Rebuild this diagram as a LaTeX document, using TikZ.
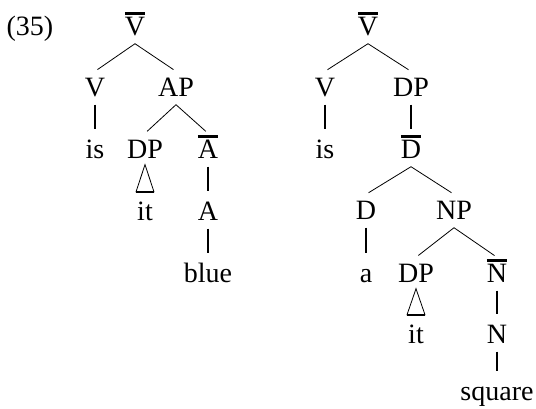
\documentclass[tikz,border=0pt]{standalone}
\usepackage{fontspec}
\setmainfont{Liberation Serif}
\usetikzlibrary{positioning,calc}
\newcommand{\xbar}[1]{\vbox{\hrule height 2.4pt\kern 2.5pt\hbox{#1}}}
\tikzset{
tree_node/.style={inner xsep=2pt, inner ysep=8pt, text height=17pt, text depth=0pt},
branch/.style={line width=0.8pt, shorten >=3pt},
unary/.style={line width=1.8pt, shorten >=4pt},
roof/.style={line width=0.8pt, line join=miter},
roof_base/.style={line width=1.8pt}
}

\begin{document}
\begin{tikzpicture}[x=1pt, y=1pt, on grid, font=\fontsize{28}{33}\selectfont]
    \useasboundingbox (0,0) rectangle (536,-408);
    \node[tree_node] (ex_num) at (30,-27) {(35)};
    % left tree
    \node[tree_node] (vbar_l) at (135,-27) {\xbar{V}};
    \node[tree_node] (v_l) [below left=61pt and 40pt of vbar_l] {V};
    \node[tree_node] (ap_l) [below right=61pt and 41pt of vbar_l] {AP};
    \node[tree_node] (is_l) [below=62pt of v_l] {is};
    \node[tree_node] (dp_l) [below left=62pt and 31pt of ap_l] {DP};
    \node[tree_node] (abar_l) [below right=62pt and 32pt of ap_l] {\xbar{A}};
    \node[tree_node] (it_l) [below=62pt of dp_l] {it};
    \node[tree_node] (a_l) [below=62pt of abar_l] {A};
    \node[tree_node] (blue_l) [below=62pt of a_l] {blue};
    % right tree
    \node[tree_node] (vbar_r) at (368,-27) {\xbar{V}};
    \node[tree_node] (v_r) [below left=61pt and 43pt of vbar_r] {V};
    \node[tree_node] (dp_r) [below right=61pt and 43pt of vbar_r] {DP};
    \node[tree_node] (is_r) [below=62pt of v_r] {is};
    \node[tree_node] (dbar_r) [below=62pt of dp_r] {\xbar{D}};
    \node[tree_node] (d_r) [below left=61pt and 45pt of dbar_r] {D};
    \node[tree_node] (np_r) [below right=61pt and 43pt of dbar_r] {NP};
    \node[tree_node] (a_r) [below=63pt of d_r] {a};
    \node[tree_node] (dp2_r) [below left=63pt and 38pt of np_r] {DP};
    \node[tree_node] (nbar_r) [below right=63pt and 43pt of np_r] {\xbar{N}};
    \node[tree_node] (it_r) [below=61pt of dp2_r] {it};
    \node[tree_node] (n_r) [below=61pt of nbar_r] {N};
    \node[tree_node] (square_r) [below=57pt of n_r] {square};
    % branches
    \foreach \a/\b in {vbar_l/v_l, vbar_l/ap_l, ap_l/dp_l, ap_l/abar_l,
        vbar_r/v_r, vbar_r/dp_r, dbar_r/d_r, dbar_r/np_r, np_r/dp2_r, np_r/nbar_r}
        \draw[branch] (\a.south) -- (\b.north);
    \foreach \a/\b in {v_l/is_l, abar_l/a_l, a_l/blue_l,
        v_r/is_r, dp_r/dbar_r, d_r/a_r, nbar_r/n_r, n_r/square_r}
        \draw[unary] (\a.south) -- (\b.north);
    % roofs
    \foreach \a/\b in {dp_l/it_l, dp2_r/it_r} {
        \draw[roof] ([yshift=2pt]\a.south) -- ([shift={(-9pt,3.5pt)}]\b.north) -- ([shift={(9pt,3.5pt)}]\b.north) -- cycle;
        \draw[roof_base] ([shift={(-9pt,3.5pt)}]\b.north) -- ([shift={(9pt,3.5pt)}]\b.north);
    }
\end{tikzpicture}
\end{document}
